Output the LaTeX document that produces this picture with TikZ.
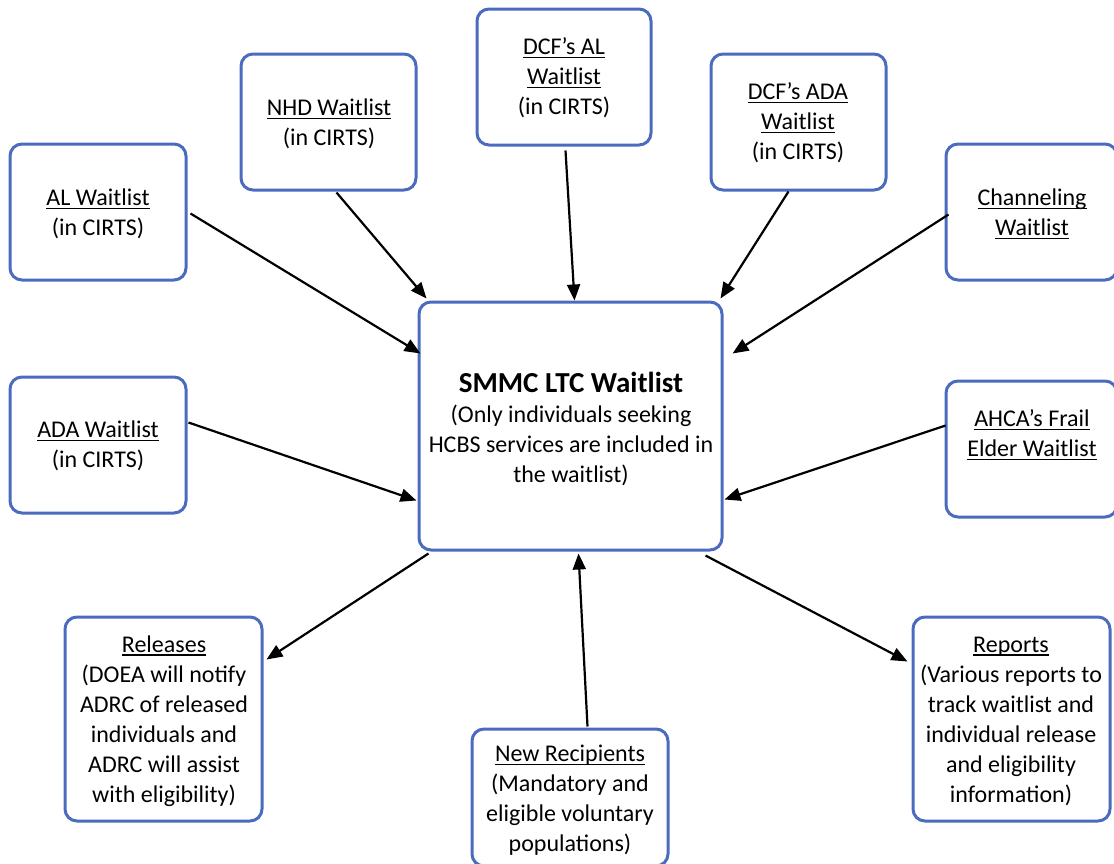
\documentclass[tikz,border=0pt]{standalone}
\usepackage{fontspec}
\setmainfont{Carlito}
\usetikzlibrary{arrows.meta,calc}
\definecolor{boxblue}{RGB}{74,107,190}
\newcommand\ulx[1]{\leavevmode\setbox0\hbox{#1}\rlap{\rule[-3.5pt]{\wd0}{1.3pt}}\box0}
\tikzset{
  box/.style={draw=boxblue, line width=3pt, rounded corners=12pt, inner sep=0pt, fill=white},
  txt/.style={align=center, font=\fontsize{24}{30}\selectfont, inner sep=0pt},
  ttl/.style={align=center, font=\fontsize{29}{35}\selectfont\bfseries, inner sep=0pt},
  arr/.style={line width=2.2pt, -{Triangle[length=16pt,width=13pt]}},
}
\begin{document}
\begin{tikzpicture}[x=1pt,y=-1pt]
\useasboundingbox (0,0) rectangle (1114,863);
\clip (0,0) rectangle (1114,863);
% boxes
\node[box, minimum width=176pt, minimum height=136pt] (al) at (98,212) {};
\node[box, minimum width=175pt, minimum height=136pt] (nhd) at (328.5,122) {};
\node[box, minimum width=174pt, minimum height=136pt] (dcfal) at (564,77) {};
\node[box, minimum width=175pt, minimum height=136pt] (dcfada) at (798.5,122) {};
\node[box, minimum width=171pt, minimum height=136pt] (ch) at (1031.5,212) {};
\node[box, minimum width=176pt, minimum height=136pt] (ada) at (98,445) {};
\node[box, minimum width=171pt, minimum height=136pt] (ahca) at (1031.5,449) {};
\node[box, minimum width=303pt, minimum height=248pt] (c) at (570.5,426) {};
\node[box, minimum width=197pt, minimum height=204pt] (rel) at (163.5,719) {};
\node[box, minimum width=196pt, minimum height=137pt] (nr) at (570,797.5) {};
\node[box, minimum width=197pt, minimum height=204pt] (rep) at (1011.5,719) {};
% texts
\node[txt] (alT) at (98,214) {\ulx{AL Waitlist}\\(in CIRTS)};
\node[txt] (nhdT) at (329,124) {\ulx{NHD Waitlist}\\(in CIRTS)};
\node[txt] (dcfalT) at (564,78) {\ulx{DCF’s AL}\\\ulx{Waitlist}\\(in CIRTS)};
\node[txt] (dcfadaT) at (798,123) {\ulx{DCF’s ADA}\\\ulx{Waitlist}\\(in CIRTS)};
\node[txt] (chT) at (1032,214) {\ulx{Channeling}\\\ulx{Waitlist}};
\node[txt] (adaT) at (98,446) {\ulx{ADA Waitlist}\\(in CIRTS)};
\node[txt] (ahcaT) at (1032,435) {\ulx{AHCA’s Frail}\\\ulx{Elder Waitlist}};
\node[ttl] (cT) at (571,382) {SMMC LTC Waitlist};
\node[txt] (cB) at (571,445) {(Only individuals seeking\\HCBS services are included in\\the waitlist)};
\node[txt] (relT) at (164,721) {\ulx{Releases}\\(DOEA will notify\\ADRC of released\\individuals and\\ADRC will assist\\with eligibility)};
\node[txt] (nrT) at (570,800) {\ulx{New Recipients}\\(Mandatory and\\eligible voluntary\\populations)};
\node[txt] (repT) at (1011,721) {\ulx{Reports}\\(Various reports to\\track waitlist and\\individual release\\and eligibility\\information)};
% arrows
\draw[arr] ($(al.north east)+(3,71)$) -- ($(c.north west)+(3,53)$);
\draw[arr] ($(nhd.south west)+(97,1)$) -- ($(c.north west)+(9,-2)$);
\draw[arr] ($(dcfal.south west)+(90,4)$) -- ($(c.north west)+(157,0)$);
\draw[arr] ($(dcfada.south west)+(79,0)$) -- ($(c.north east)+(-3,-2)$);
\draw[arr] ($(ch.north west)+(4,72)$) -- ($(c.north east)+(9,53)$);
\draw[arr] ($(ada.north east)+(1,47)$) -- ($(c.north west)+(-1,200)$);
\draw[arr] ($(ahca.north west)+(1,46)$) -- ($(c.north east)+(1,199)$);
\draw[arr] ($(c.south west)+(11,2)$) -- ($(rel.north east)+(3,44)$);
\draw[arr] ($(c.south east)+(-18,4)$) -- ($(rep.north west)+(-4,46)$);
\draw[arr] ($(nr.north west)+(117,-1)$) -- ($(c.south west)+(161,2)$);
\end{tikzpicture}
\end{document}
